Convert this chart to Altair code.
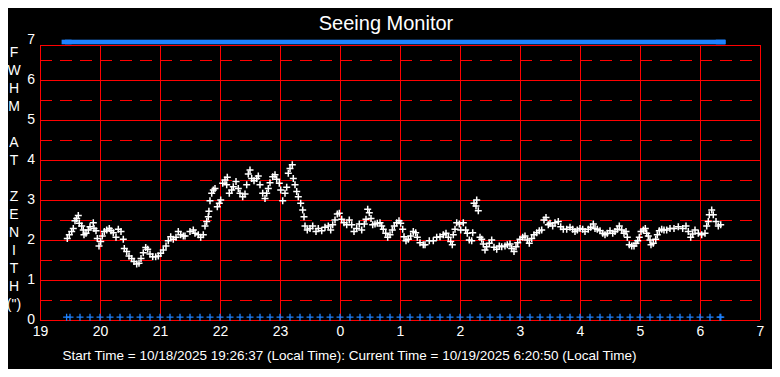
import altair as alt
import pandas as pd

# ---------------- data ----------------
TITLE = "Seeing Monitor"
Y_TITLE = ["F", "W", "H", "M", "", "A", "T", "", "Z", "E", "N", "I", "T", "H", "(\")"]
FOOTER = "Start Time = 10/18/2025  19:26:37 (Local Time): Current Time =  10/19/2025  6:20:50 (Local Time)"

hour_ticks = [19, 20, 21, 22, 23, 24, 25, 26, 27, 28, 29, 30, 31]
y_ticks = [0, 1, 2, 3, 4, 5, 6, 7]
y_solid = [0, 1, 2, 3, 4, 5, 6]
y_dashed = [0.5, 1.5, 2.5, 3.5, 4.5, 5.5, 6.5]
frame_top = 6.875
top_marker_level = 6.95
bottom_marker_level = 0.07

# minutes after 19:00 of the status markers (start, every 10 min, current)
marker_minutes = [26.6, 30, 40, 50, 60, 70, 80, 90, 100, 110, 120, 130, 140, 150, 160,
                  170, 180, 190, 200, 210, 220, 230, 240, 250, 260, 270, 280, 290, 300,
                  310, 320, 330, 340, 350, 360, 370, 380, 390, 400, 410, 420, 430, 440,
                  450, 460, 470, 480, 490, 500, 510, 520, 530, 540, 550, 560, 570, 580,
                  590, 600, 610, 620, 630, 640, 650, 660, 670, 680, 680.8]

# (minutes after 19:00, FWHM arcsec)
seeing_points = [
    (27.3, 2.04), (29.3, 2.13), (31.7, 2.21), (33.3, 2.29), (35, 2.48), (36.7, 2.54),
    (38.3, 2.61), (39.3, 2.42), (41.7, 2.35), (43.3, 2.25), (44, 2.13), (46, 2.17),
    (48.3, 2.25), (50, 2.33), (53.3, 2.43), (54, 2.29), (56, 2.23), (57.3, 2.04),
    (59, 1.85), (60.7, 1.96), (62.3, 2.1), (64.3, 2.21), (66.7, 2.25), (69.3, 2.29),
    (71, 2.23), (73.3, 2.18), (76, 2.07), (78.3, 2.27), (81, 2.21), (83.3, 2.02),
    (84.3, 1.79), (86.7, 1.71), (89, 1.6), (91.7, 1.54), (94, 1.46), (96.7, 1.4),
    (99, 1.42), (101, 1.54), (103.3, 1.68), (105.7, 1.81), (107.7, 1.77), (110, 1.65),
    (112.7, 1.58), (115.7, 1.58), (118.3, 1.6), (120.7, 1.67), (123.3, 1.75), (126, 1.85),
    (128.3, 1.98), (130.7, 2.08), (133.3, 2.02), (136, 2.07), (138.3, 2.21), (140.7, 2.13),
    (143.3, 2.1),
    (145, 2.1), (150, 2.21), (153.3, 2.25), (155, 2.17), (158.3, 2.13), (160.7, 2.07),
    (163.3, 2.13), (165, 2.35), (166.7, 2.46), (168.3, 2.58), (168.9, 2.72), (170, 2.98),
    (171.7, 3.17), (173.3, 3.25), (175, 3.29), (177.3, 2.83), (179.3, 2.92), (180.7, 3.0),
    (182.7, 3.42), (185, 3.5), (187.3, 3.57), (186.7, 3.38), (189.3, 3.17), (191.7, 3.25),
    (193.3, 3.33), (196, 3.46), (198.3, 3.29), (200, 3.17), (202.7, 3.08), (205, 3.15),
    (206.7, 3.38), (208.3, 3.65), (210, 3.75), (211.7, 3.54), (214, 3.48), (216.7, 3.54),
    (218.3, 3.6), (220, 3.38), (222.7, 3.17), (225, 3.04), (226.7, 3.17), (228.3, 3.29),
    (230, 3.43), (232.7, 3.58), (235, 3.63), (236.7, 3.52), (239.3, 3.42), (240.7, 3.25),
    (242.7, 2.98), (245, 3.17), (246.7, 3.32), (248.3, 3.67), (250, 3.79), (252.3, 3.88),
    (253.3, 3.54), (255, 3.38), (256.7, 3.21), (258.3, 3.08), (260.7, 2.92), (262.7, 2.75),
    (264, 2.58), (265, 2.35),
    (267.3, 2.25), (270, 2.29), (272.7, 2.35), (276, 2.21), (278.3, 2.29), (281.7, 2.23),
    (285, 2.32), (288.3, 2.35), (290.7, 2.25), (292.7, 2.38), (295, 2.5), (297.3, 2.65),
    (299.3, 2.67), (301.7, 2.52), (304, 2.43), (306.7, 2.38), (309.3, 2.5), (311.7, 2.38),
    (314, 2.21), (316.7, 2.29), (319.3, 2.4), (321.7, 2.25), (324.3, 2.4), (326, 2.52),
    (327.7, 2.77), (329.3, 2.68), (331, 2.54), (332.7, 2.38), (335, 2.4), (337.3, 2.42),
    (340, 2.43), (341.7, 2.35), (343.3, 2.27), (345.7, 2.17), (347.7, 2.07), (350, 2.13),
    (352.3, 2.25), (354.3, 2.35), (356.7, 2.43), (359, 2.48), (360.7, 2.42), (362.7, 2.27),
    (364, 2.08), (366, 1.98), (368.3, 2.02), (370.7, 2.1), (373.3, 2.21), (375.7, 2.18),
    (377.3, 2.07), (380, 1.93), (383.3, 1.88),
    (385, 1.88), (389.3, 1.98), (393.3, 1.98), (396.7, 2.07), (400, 2.08), (403.3, 2.13),
    (406, 2.17), (408.3, 2.07), (410.7, 1.96), (412.3, 1.88), (413.3, 2.13), (415, 2.27),
    (416.7, 2.43), (419.3, 2.4), (420.7, 2.25), (423.3, 2.43), (425.7, 2.25), (427.3, 2.17),
    (429.3, 2.0), (431.7, 1.98), (432.7, 2.18), (434, 2.92), (436, 2.85), (436.7, 3.0),
    (438.3, 2.73), (440, 2.07), (441.7, 2.02), (443.3, 1.9), (445, 1.75), (446.7, 1.83),
    (449.3, 1.92), (451.7, 2.0), (454, 1.82), (456.7, 1.77), (459.3, 1.85), (461.7, 1.83),
    (465, 1.85), (467.3, 1.88), (470, 1.9), (471.7, 1.79), (474, 1.71), (476, 1.83),
    (477.7, 1.93), (480, 2.02), (482.7, 2.07), (485, 2.1), (487.3, 2.0), (489.3, 1.92),
    (491.7, 2.04), (494, 2.13), (496.7, 2.18), (499.3, 2.23),
    (501.7, 2.25), (504, 2.5), (506, 2.56), (508.3, 2.38), (510, 2.42), (512.7, 2.35),
    (515, 2.43), (518.3, 2.46), (520.7, 2.33), (523.3, 2.27), (526.7, 2.27), (530, 2.32),
    (532.7, 2.27), (535, 2.21), (537.3, 2.25), (540, 2.29), (542.7, 2.27), (545, 2.21),
    (548.3, 2.27), (550.7, 2.32), (553.3, 2.4), (555, 2.29), (557.3, 2.27), (560, 2.23),
    (562.7, 2.17), (565, 2.13), (567.3, 2.17), (570, 2.23), (572.7, 2.17), (575, 2.21),
    (577.3, 2.27), (579.3, 2.35), (581.7, 2.25), (584, 2.17), (586, 2.21), (587.3, 2.07),
    (589.3, 1.88), (591.7, 1.85), (594, 1.85), (596, 1.92), (597.7, 1.98), (599.3, 2.07),
    (601, 2.21), (603.3, 2.25), (605.3, 2.29), (606.7, 2.17), (608.3, 2.1), (610, 2.0),
    (611, 1.88), (613.3, 1.92), (615.7, 2.02), (617.3, 2.13), (619.3, 2.23), (621.7, 2.27),
    (624, 2.25), (626.7, 2.25), (630, 2.29), (634, 2.29), (638.3, 2.33), (642.7, 2.29),
    (646, 2.35), (648.3, 2.21), (650.7, 2.07), (652.7, 2.15), (655, 2.25), (658.3, 2.17),
    (661.7, 2.13), (665, 2.17), (666.7, 2.35), (668.3, 2.46), (669.3, 2.63), (671.7, 2.75),
    (673.3, 2.63), (676, 2.46), (678.3, 2.35), (680.7, 2.38),
]

# ---------------- tables ----------------
seeing = pd.DataFrame(seeing_points, columns=["minute", "fwhm"])
seeing["hour"] = 19 + seeing["minute"] / 60.0

markers = pd.DataFrame({"minute": marker_minutes})
markers["hour"] = 19 + markers["minute"] / 60.0
markers["top"] = top_marker_level
markers["bottom"] = bottom_marker_level

vlines = pd.DataFrame({"hour": hour_ticks})
vlines["y0"] = 0.0
vlines["y1"] = frame_top

hsolid = pd.DataFrame({"v": y_solid + [frame_top]})
hsolid["x0"] = float(hour_ticks[0])
hsolid["x1"] = float(hour_ticks[-1])

hdash = pd.DataFrame({"v": y_dashed})
hdash["x0"] = float(hour_ticks[0])
hdash["x1"] = float(hour_ticks[-1])

ylab = pd.DataFrame({"v": y_ticks})
ylab["label"] = ylab["v"].astype(str)
ylab["x"] = float(hour_ticks[0])

# stacked letters of the vertical axis title: one text line every 18 px (0.45 units)
letters = pd.DataFrame({"ch": Y_TITLE})
letters["row"] = range(len(Y_TITLE))
letters["v"] = 6.675 - 0.45 * letters["row"]
letters["x"] = float(hour_ticks[0])
letters = letters[letters["ch"] != ""]

RED = "#FF0000"
BLUE = "#1E82FF"
WHITE = "#FFFFFF"
FONT = "Liberation Sans"
PLUS = "M-1,0L1,0M0,-1L0,1"
BAR = "M-1,-0.46L1,-0.46L1,0.46L-1,0.46Z"

xscale = alt.Scale(domain=[19, 31], nice=False, zero=False)
yscale = alt.Scale(domain=[0, 7], nice=False, zero=False)

x_axis = alt.Axis(
    values=hour_ticks,
    labelExpr="datum.value >= 24 ? datum.value - 24 : datum.value",
    labelFlush=False, labelOverlap=False,
    labelColor=WHITE, labelFont=FONT, labelFontSize=14, labelPadding=4,
    ticks=False, domain=False, grid=False,
    title=FOOTER, titleColor=WHITE, titleFont=FONT, titleFontSize=13.5,
    titleFontWeight="normal", titleAnchor="start", titleAlign="left",
    titleBaseline="middle", titleX=22, titleY=35,
)

# invisible copy of the data first, so that its axes are the ones drawn
axis_layer = alt.Chart(seeing).mark_point(opacity=0).encode(
    x=alt.X("hour:Q", scale=xscale, axis=x_axis),
    y=alt.Y("fwhm:Q", scale=yscale, axis=None),
)
grid_v = alt.Chart(vlines).mark_rule(color=RED, strokeWidth=1, xOffset=0.5).encode(
    x=alt.X("hour:Q"),
    y=alt.Y("y0:Q"),
    y2="y1:Q",
)
grid_h = alt.Chart(hsolid).mark_rule(color=RED, strokeWidth=1, yOffset=0.5).encode(
    y=alt.Y("v:Q"),
    x=alt.X("x0:Q"),
    x2="x1:Q",
)
grid_d = alt.Chart(hdash).mark_rule(color=RED, strokeWidth=1, yOffset=0.5, strokeDash=[12, 8]).encode(
    y=alt.Y("v:Q"),
    x=alt.X("x0:Q"),
    x2="x1:Q",
)
top_marks = alt.Chart(markers).mark_point(
    shape=BAR, size=100, filled=True, color=BLUE, opacity=1
).encode(
    x=alt.X("hour:Q"),
    y=alt.Y("top:Q"),
)
bottom_marks = alt.Chart(markers).mark_point(
    shape=PLUS, size=49, filled=False, color=BLUE, strokeWidth=1.3, opacity=1
).encode(
    x=alt.X("hour:Q"),
    y=alt.Y("bottom:Q"),
)
points = alt.Chart(seeing).mark_point(
    shape=PLUS, size=49, filled=False, color=WHITE, strokeWidth=1.5, opacity=1
).encode(
    x=alt.X("hour:Q"),
    y=alt.Y("fwhm:Q"),
)
y_labels = alt.Chart(ylab).mark_text(
    align="right", baseline="middle", dx=-5, font=FONT, fontSize=14, color=WHITE
).encode(
    x=alt.X("x:Q"),
    y=alt.Y("v:Q"),
    text="label:N",
)
y_title = alt.Chart(letters).mark_text(
    align="center", baseline="middle", dx=-26, font=FONT, fontSize=14, color=WHITE
).encode(
    x=alt.X("x:Q"),
    y=alt.Y("v:Q"),
    text="ch:N",
)

chart = alt.layer(
    axis_layer, grid_v, grid_h, grid_d, top_marks, bottom_marks, points, y_labels, y_title
).properties(
    width=720,
    height=280,
    title=alt.TitleParams(
        TITLE, color=WHITE, font=FONT, fontSize=20, fontWeight="normal",
        anchor="middle", frame="group", offset=4, baseline="alphabetic", dx=-14, dy=21,
    ),
    autosize=alt.AutoSizeParams(type="none"),
    padding={"left": 32, "top": 32, "right": 12, "bottom": 49},
    background="#000000",
).configure_view(stroke=None)

chart.save("out.html", embed_options={"renderer": "svg", "actions": False})
